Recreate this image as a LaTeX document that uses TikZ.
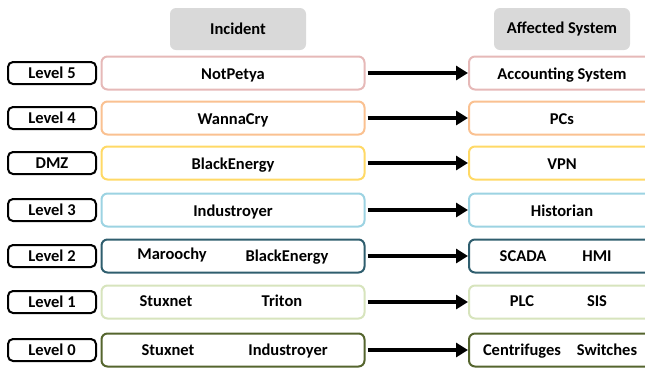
\documentclass[tikz,border=0pt]{standalone}
\usepackage{fontspec}
\setmainfont{Carlito}
\usetikzlibrary{arrows.meta}
\definecolor{cfive}{HTML}{E6B9B8}
\definecolor{cfour}{HTML}{FAC191}
\definecolor{cdmz}{HTML}{FFD966}
\definecolor{cthree}{HTML}{9CD3E2}
\definecolor{ctwo}{HTML}{2F5E6E}
\definecolor{cone}{HTML}{D7E4BD}
\definecolor{czero}{HTML}{55652E}
\definecolor{hdr}{HTML}{D9D9D9}
\tikzset{
  lvl/.style={draw=black, line width=2pt, rounded corners=5pt, minimum width=88pt, minimum height=22pt, inner sep=0pt, font=\fontsize{16.5}{18}\selectfont\bfseries},
  inc/.style={draw=#1, line width=2pt, rounded corners=6pt, minimum width=263pt, minimum height=33pt, inner sep=0pt, fill=white},
  aff/.style={draw=#1, line width=2pt, rounded corners=6pt, minimum width=186pt, minimum height=33pt, inner sep=0pt, fill=white},
  txt/.style={inner sep=0pt, anchor=base, font=\fontsize{16.5}{18}\selectfont\bfseries},
  hdrbox/.style={fill=hdr, rounded corners=6pt, minimum width=136pt, minimum height=42pt, inner sep=0pt, font=\fontsize{16.5}{18}\selectfont\bfseries},
  arr/.style={line width=3.5pt, -{Triangle[length=12pt,width=14pt]}, shorten <=2pt}
}
\begin{document}
\begin{tikzpicture}[x=1pt,y=-1pt]
\useasboundingbox (0,0) rectangle (645,368);
\clip (0,0) rectangle (645,368);
\node[hdrbox] (h1) at (238,29) {Incident};
\node[hdrbox] (h2) at (562,29) {Affected System};
% rows
\foreach \y/\lab/\c/\n in {73/Level 5/cfive/r5, 118/Level 4/cfour/r4, 163/DMZ/cdmz/rd, 210/Level 3/cthree/r3, 256/Level 2/ctwo/r2, 302/Level 1/cone/r1, 350/Level 0/czero/r0}{
  \node[lvl] (\n l) at (52,\y) {\lab};
  \node[inc=\c] (\n i) at (233,\y) {};
  \node[aff=\c] (\n a) at (562,\y) {};
  \draw[arr] (\n i.east) -- (\n a.west);
}
% texts
\node[txt] (t5i) at ([yshift=-6pt]r5i.center) {NotPetya};
\node[txt] (t5a) at ([yshift=-6pt]r5a.center) {Accounting System};
\node[txt] (t4i) at ([yshift=-6pt]r4i.center) {WannaCry};
\node[txt] (t4a) at ([yshift=-6pt]r4a.center) {PCs};
\node[txt] (tdi) at ([yshift=-6pt]rdi.center) {BlackEnergy};
\node[txt] (tda) at ([yshift=-6pt]rda.center) {VPN};
\node[txt] (t3i) at ([yshift=-6pt]r3i.center) {Industroyer};
\node[txt] (t3a) at ([yshift=-6pt]r3a.center) {Historian};
\node[txt] (t2i1) at (172,259) {Maroochy};
\node[txt] (t2i2) at (287,261) {BlackEnergy};
\node[txt] (t2a1) at (523,261) {SCADA};
\node[txt] (t2a2) at (597,261) {HMI};
\node[txt] (t1i1) at (166,306) {Stuxnet};
\node[txt] (t1i2) at (282,306) {Triton};
\node[txt] (t1a1) at (522,306) {PLC};
\node[txt] (t1a2) at (597,306) {SIS};
\node[txt] (t0i1) at (168,355) {Stuxnet};
\node[txt] (t0i2) at (288,355) {Industroyer};
\node[txt] (t0a1) at (522,355) {Centrifuges};
\node[txt] (t0a2) at (607,355) {Switches};
\end{tikzpicture}
\end{document}
